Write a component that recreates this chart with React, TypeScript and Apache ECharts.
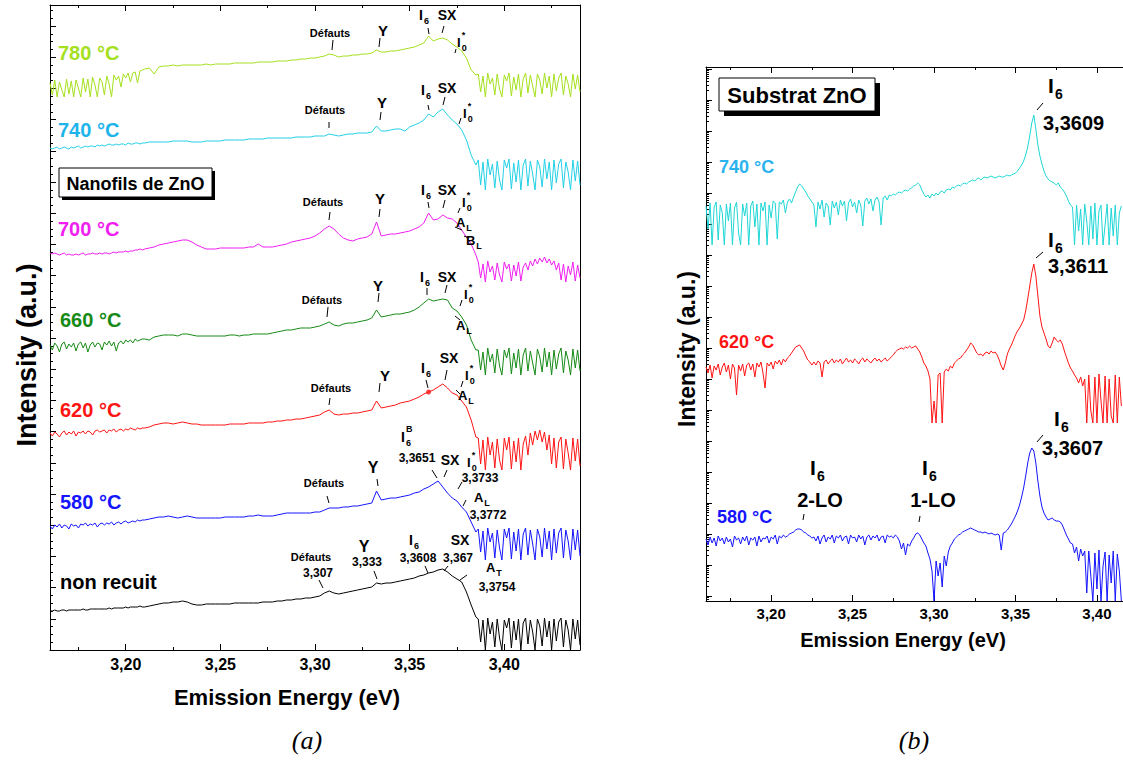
import React, { useEffect, useRef } from "react";
import * as echarts from "echarts";

// ---------- Panel (a): Nanofils de ZnO ----------
// energy sampling segments (eV): dense head, body, dense tail
const HEAD_A = { start: 3.16, step: 0.00125, n: 40 };
const BODY_A = { start: 3.21, step: 0.0025, n: 71 };
const TAIL_A = { start: 3.38625, step: 0.00125, n: 44 };
const E_MIN_A = 3.16;
const E_MAX_A = 3.44;
const MAJOR_A = [3.2, 3.25, 3.3, 3.35, 3.4];
const MINOR_A = [3.175, 3.225, 3.275, 3.325, 3.375, 3.425];

// curve values (a.u., vertically offset spectra): head(40) | body(71) | tail(44)
const S780 = [
  567, 555, 570, 553, 568, 560, 553, 571, 556, 569, 553, 570, 562, 553, 572, 558, 571, 553, 573, 565,
  553, 572, 568, 555, 574, 566, 553, 575, 570, 574, 563, 576, 572, 577, 568, 577, 578, 567, 579, 580,
  581, 582, 576, 583, 584, 584, 585, 584, 585, 585, 585, 585, 585, 586, 585, 586, 586, 586, 586, 587,
  587, 587, 587, 587, 588, 588, 588, 588, 589, 589, 589, 590, 590, 591, 591, 592, 592, 593, 594, 596,
  595, 593, 594, 594, 595, 595, 596, 596, 597, 600, 598, 598, 599, 599, 600, 601, 602, 603, 605, 607,
  614, 609, 611, 612, 610, 606, 603, 599, 592, 580, 575,
  576, 558, 574, 553, 577, 566, 572, 555, 576, 561, 553, 575, 569, 577, 554, 573, 560, 576, 553, 571,
  577, 557, 575, 564, 553, 576, 570, 556, 577, 562, 574, 553, 576, 559, 572, 577, 555, 574, 566, 553,
  576, 561, 575, 558,
];
const S740 = [
  502, 501, 502, 503, 501, 502, 503, 502, 501, 503, 502, 503, 504, 502, 503, 504, 503, 504, 504, 503,
  505, 504, 505, 504, 505, 506, 505, 505, 506, 505, 506, 506, 505, 507, 506, 506, 507, 507, 506, 507,
  507, 508, 508, 508, 508, 508, 509, 509, 509, 509, 508, 508, 508, 509, 509, 509, 509, 510, 510, 510,
  510, 510, 511, 511, 511, 511, 512, 512, 512, 512, 512, 512, 513, 513, 513, 513, 514, 514, 514, 516,
  515, 514, 515, 516, 516, 517, 517, 517, 518, 524, 519, 519, 520, 521, 521, 519, 523, 525, 527, 530,
  536, 533, 538, 541, 535, 530, 526, 520, 510, 495, 485,
  490, 465, 488, 460, 491, 475, 486, 462, 489, 470, 460, 490, 482, 491, 461, 487, 468, 490, 460, 485,
  491, 464, 489, 476, 460, 490, 483, 463, 491, 471, 488, 460, 490, 467, 486, 491, 462, 488, 478, 460,
  490, 469, 489, 465,
];
const S700 = [
  397, 396, 397, 396, 395, 396, 397, 395, 396, 395, 395, 396, 395, 396, 397, 395, 396, 396, 397, 396,
  396, 397, 396, 397, 397, 396, 397, 398, 397, 398, 398, 398, 399, 398, 399, 399, 400, 400, 401, 400,
  401, 402, 403, 405, 406, 407, 408, 409, 410, 410, 408, 405, 403, 401, 401, 401, 402, 402, 402, 402,
  402, 402, 403, 403, 406, 403, 403, 403, 404, 405, 406, 408, 409, 410, 411, 412, 414, 417, 421, 424,
  421, 416, 412, 410, 409, 411, 412, 413, 416, 428, 414, 415, 416, 416, 417, 418, 419, 421, 423, 427,
  437, 430, 431, 435, 432, 431, 427, 420, 413, 406, 395,
  388, 372, 386, 368, 389, 378, 384, 370, 387, 375, 368, 388, 381, 386, 369, 385, 374, 388, 369, 383,
  387, 380, 389, 384, 391, 386, 392, 388, 393, 387, 391, 385, 389, 380, 387, 370, 386, 368, 384, 375,
  388, 369, 385, 372,
];
const S660 = [
  305, 300, 307, 304, 298, 306, 308, 301, 306, 303, 307, 299, 306, 308, 302, 307, 298, 305, 308, 303,
  307, 306, 300, 308, 305, 309, 304, 308, 299, 307, 309, 306, 310, 308, 310, 307, 311, 309, 310, 311,
  311, 310, 313, 314, 315, 315, 315, 314, 316, 316, 315, 314, 314, 314, 314, 314, 314, 314, 315, 315,
  314, 315, 315, 316, 316, 316, 316, 317, 318, 319, 320, 320, 321, 322, 322, 322, 323, 324, 326, 328,
  325, 324, 326, 327, 327, 328, 329, 330, 332, 340, 333, 334, 335, 336, 336, 337, 338, 340, 343, 347,
  351, 349, 350, 351, 350, 342, 339, 333, 325, 310, 300,
  300, 280, 298, 275, 302, 288, 296, 277, 301, 284, 275, 300, 292, 302, 276, 297, 282, 301, 275, 295,
  302, 279, 299, 287, 275, 301, 293, 278, 302, 283, 298, 275, 300, 281, 296, 302, 277, 299, 290, 275,
  301, 282, 300, 279,
];
const S620 = [
  217, 214, 218, 216, 213, 217, 219, 215, 218, 216, 219, 214, 218, 217, 219, 216, 219, 218, 215, 219,
  220, 218, 219, 220, 217, 220, 219, 221, 218, 220, 221, 219, 221, 220, 222, 221, 220, 222, 221, 222,
  222, 223, 225, 226, 227, 227, 226, 227, 228, 227, 226, 226, 225, 225, 225, 225, 225, 225, 226, 226,
  226, 226, 227, 227, 227, 227, 228, 228, 229, 229, 230, 230, 231, 231, 232, 233, 234, 235, 238, 240,
  236, 235, 236, 236, 237, 237, 238, 239, 240, 249, 242, 243, 244, 245, 247, 248, 249, 251, 253, 256,
  258, 260, 263, 266, 262, 257, 255, 249, 243, 230, 213,
  212, 186, 210, 180, 213, 195, 208, 182, 211, 190, 180, 212, 200, 213, 181, 209, 188, 212, 180, 206,
  214, 195, 217, 205, 219, 210, 220, 208, 218, 200, 215, 186, 212, 182, 208, 213, 181, 211, 197, 180,
  212, 189, 211, 184,
];
const S580 = [
  124, 121, 125, 123, 126, 122, 125, 124, 121, 126, 124, 125, 122, 126, 125, 127, 124, 126, 125, 127,
  123, 126, 127, 125, 127, 126, 128, 125, 127, 128, 126, 128, 129, 127, 128, 129, 128, 130, 129, 130,
  130, 131, 132, 133, 133, 134, 133, 132, 133, 134, 133, 132, 132, 132, 132, 132, 132, 133, 133, 133,
  133, 133, 134, 134, 135, 134, 134, 134, 135, 136, 137, 137, 137, 137, 137, 137, 138, 138, 140, 142,
  142, 142, 143, 143, 144, 144, 145, 146, 147, 159, 150, 151, 152, 152, 153, 154, 155, 157, 158, 161,
  163, 166, 169, 163, 157, 152, 149, 143, 138, 128, 118,
  121, 98, 119, 90, 122, 108, 117, 92, 120, 102, 90, 121, 112, 122, 91, 118, 99, 121, 90, 116,
  122, 95, 120, 106, 90, 121, 113, 93, 122, 101, 119, 90, 121, 97, 117, 122, 92, 120, 109, 90,
  121, 100, 120, 94,
];
const SNR = [
  39, 39, 40, 39, 39, 40, 40, 39, 40, 40, 40, 40, 40, 40, 41, 40, 40, 41, 41, 41,
  41, 41, 41, 41, 41, 42, 41, 42, 42, 42, 42, 42, 43, 42, 43, 43, 43, 43, 44, 43,
  43, 44, 45, 46, 47, 47, 48, 48, 49, 48, 46, 45, 45, 46, 46, 46, 46, 46, 46, 47,
  47, 47, 47, 47, 47, 48, 48, 48, 49, 49, 50, 50, 51, 51, 52, 52, 53, 54, 57, 59,
  57, 56, 57, 58, 59, 60, 61, 62, 63, 67, 66, 67, 67, 68, 69, 70, 71, 72, 74, 75,
  77, 78, 80, 81, 78, 74, 71, 68, 58, 45, 33,
  31, 8, 30, 0, 32, 16, 28, 3, 31, 12, 0, 30, 22, 32, 2, 29, 10, 31, 0, 27,
  32, 6, 30, 18, 0, 31, 24, 4, 32, 13, 29, 0, 31, 9, 28, 32, 3, 30, 20, 0,
  31, 11, 30, 5,
];
const SERIES_A = [
  { name: "780 °C", values: S780, color: "#a5e01e" },
  { name: "740 °C", values: S740, color: "#22d0e6" },
  { name: "700 °C", values: S700, color: "#f01ef0" },
  { name: "660 °C", values: S660, color: "#158a15" },
  { name: "620 °C", values: S620, color: "#ff1414" },
  { name: "580 °C", values: S580, color: "#1414ff" },
  { name: "non recuit", values: SNR, color: "#000000" },
];

// ---------- Panel (b): Substrat ZnO ----------
const GRID_B = { start: 3.16, step: 0.00125, n: 205 };
const E_MIN_B = 3.16;
const E_MAX_B = 3.416;
const MAJOR_B = [3.2, 3.25, 3.3, 3.35, 3.4];
const MINOR_B = [3.175, 3.225, 3.275, 3.325, 3.375];

const R740 = [
  395, 372, 398, 356, 394, 399, 361, 396, 388, 356, 397, 380, 398, 356, 393, 399, 368, 356, 397, 385,
  398, 356, 395, 400, 374, 397, 356, 398, 390, 399, 356, 396, 383, 400, 398, 362, 399, 397, 401, 388,
  399, 402, 398,
  404, 409, 414, 417, 415, 412, 409, 405, 402, 399,
  396, 374, 399, 392, 401, 384, 398, 395, 376, 400, 393, 399, 386, 401, 395, 400, 380, 398, 402, 394,
  399, 388, 401, 396, 375, 400, 403, 397, 402, 390, 401, 404, 399, 376, 403, 405, 401, 406,
  405, 407, 406, 408, 409, 408, 410, 411, 410, 412, 413, 415, 416, 418,
  416, 411, 407, 404, 406, 403, 407, 405,
  408, 406, 409, 410, 408, 411, 412, 411, 414, 413, 415, 416, 415, 417, 418, 417, 419, 420,
  421, 420, 422, 423, 421, 423, 424, 423, 424, 425, 424, 423, 424, 425, 424, 424, 425, 426, 425, 426,
  427, 428, 430, 433, 436, 440, 446, 454, 465, 478, 486, 472, 456, 445, 437,
  430, 425, 422, 420, 419, 418, 416, 418, 414, 412, 409, 405, 400, 396,
  394, 356, 396, 370, 392, 356, 397, 380, 356, 395, 362, 398, 356, 390, 396, 356, 376, 397, 356, 393,
  365, 396, 356, 388, 395,
];
const R620 = [
  234, 228, 236, 223, 235, 231, 237, 226, 234, 238, 229, 236, 222, 237, 233, 206, 236, 230, 237, 225,
  236, 238, 231, 237, 224, 238, 234, 239, 228, 213, 238, 235, 239, 232, 240, 237, 241, 236, 242, 239,
  243, 245, 248,
  251, 254, 255, 256, 253, 250, 245, 241, 239, 236,
  239, 236, 240, 238, 224, 239, 241, 237, 240, 242, 238, 241, 239, 242, 237, 240, 243, 239, 241, 238,
  242, 240, 237, 241, 243, 239, 242, 240, 238, 241, 243, 240, 242, 239, 241, 243, 240, 242,
  244, 246, 249, 251, 252, 253, 252, 254, 253, 255, 253, 254, 255, 252,
  249, 244, 238, 235, 230, 222, 178, 200,
  178, 226, 228, 178, 229, 232, 230, 235, 233, 238, 240, 242, 243, 246, 248, 251, 254, 258,
  256, 252, 248, 246, 247, 245, 248, 249, 247, 250, 248, 249, 246, 241, 235, 231, 238, 247, 252, 256,
  261, 266, 270, 273, 277, 281, 290, 302, 315, 328, 337, 325, 305, 285, 274,
  268, 262, 255, 253, 258, 264, 261, 259, 261, 257, 250, 244, 238, 233,
  230, 226, 223, 218, 224, 215, 222, 178, 226, 190, 178, 224, 178, 227, 200, 178, 225, 178, 222, 185,
  178, 226, 178, 224, 195,
];
const R580 = [
  62, 56, 64, 58, 63, 55, 65, 60, 63, 57, 64, 59, 62, 54, 65, 61, 63, 57, 64, 60,
  65, 56, 63, 61, 64, 55, 65, 59, 63, 62, 65, 58, 64, 62, 66, 57, 65, 63, 66, 64,
  65, 67, 68,
  69, 71, 72, 72, 71, 69, 68, 66, 65, 63,
  64, 60, 65, 57, 63, 66, 59, 64, 62, 66, 58, 65, 63, 66, 60, 64, 65, 57, 66, 63,
  64, 59, 66, 62, 65, 56, 64, 66, 61, 65, 63, 66, 60, 64, 65, 58, 66, 64,
  65, 63, 66, 64, 60, 52, 58, 46, 57, 55, 60, 63, 67, 68,
  66, 62, 58, 55, 48, 42, 30, 0,
  40, 25, 38, 14, 45, 35, 49, 55, 58, 62, 64, 66, 67, 69, 70, 71, 72, 73,
  72, 71, 70, 69, 69, 68, 69, 68, 67, 68, 67, 66, 67, 66, 51, 68, 69, 71, 74, 77,
  81, 85, 90, 96, 104, 113, 125, 138, 148, 153, 150, 138, 120, 105, 94,
  88, 84, 81, 82, 83, 81, 80, 80, 79, 76, 71, 66, 62, 58,
  57, 48, 54, 40, 52, 45, 50, 8, 50, 25, 0, 48, 12, 51, 0, 35, 49, 0, 46, 18,
  50, 0, 47, 30, 0,
];
const SERIES_B = [
  { name: "740 °C", values: R740, color: "#1fd6d6" },
  { name: "620 °C", values: R620, color: "#ff1414" },
  { name: "580 °C", values: R580, color: "#1414ff" },
];

const Y_MAX_A = 645;
const Y_MAX_B = 534;

const FONT = '"Liberation Sans", Arial, Helvetica, sans-serif';
const SERIF = '"Liberation Serif", "Times New Roman", serif';

const seq = (g: { start: number; step: number; n: number }) =>
  Array.from({ length: g.n }, (_, i) => Math.round((g.start + i * g.step) * 100000) / 100000);
const ENERGY_A = [...seq(HEAD_A), ...seq(BODY_A), ...seq(TAIL_A)];
const ENERGY_B = seq(GRID_B);

const fmt = (v: number) => v.toFixed(2).replace(".", ",");

// tick layout (positions of axis ticks only)
const ticksEvery = (step: number, max: number) => {
  const out: number[] = [];
  for (let v = 0; v <= max + 0.01; v += step) out.push(Math.round(v * 10) / 10);
  return out;
};
const logMajorsB: number[] = [];
for (let v = 5; v <= Y_MAX_B; v += 31) logMajorsB.push(v);
const logMinorsB: number[] = [];
for (const m of [-26, ...logMajorsB]) {
  for (let k = 2; k <= 9; k++) {
    const v = m + 31 * Math.log10(k);
    if (v > 0 && v < Y_MAX_B) logMinorsB.push(Math.round(v * 10) / 10);
  }
}
const TICKS_A_MAJOR = ticksEvery(31.2, Y_MAX_A);
const TICKS_A_MINOR = ticksEvery(7.8, Y_MAX_A);

function txt(x: number, y: number, text: string, size: number, opt: any = {}) {
  const align = opt.align || "center";
  return {
    type: "text",
    x,
    y,
    z: 50,
    rotation: opt.rotation || 0,
    style: {
      text,
      fill: opt.fill || "#000",
      font: `${opt.italic ? "italic " : ""}${opt.normal ? "" : "bold "}${size}px ${opt.family || FONT}`,
      align,
      verticalAlign: "middle",
      textAlign: align,
      textVerticalAlign: "middle",
    },
  };
}
function seg(x1: number, y1: number, x2: number, y2: number) {
  return { type: "line", z: 50, shape: { x1, y1, x2, y2 }, style: { stroke: "#000", lineWidth: 1 } };
}
// letter with subscript / superscript; x is left edge of main letter
function lab(x: number, y: number, main: string, size: number, wFactor: number, sub?: string, sup?: string) {
  const w = size * wFactor;
  const s = Math.round(size * 0.66);
  const els: any[] = [txt(x, y, main, size, { align: "left" })];
  if (sub) els.push(txt(x + w + 1, y + size * 0.45, sub, s, { align: "left" }));
  if (sup) els.push(txt(x + w + 1, y - size * 0.55, sup, s, { align: "left" }));
  return els;
}
function box(x: number, y: number, w: number, h: number, text: string, size: number, sh: number) {
  return [
    { type: "rect", z: 40, shape: { x: x + sh, y: y + sh, width: w, height: h }, style: { fill: "#000" } },
    { type: "rect", z: 41, shape: { x, y, width: w, height: h }, style: { fill: "#fff", stroke: "#000", lineWidth: 1 } },
    txt(x + w / 2, y + h / 2 + 1, text, size),
  ];
}

function buildOption() {
  const axisBase = {
    type: "value",
    splitLine: { show: false },
    axisLine: { show: false },
    axisLabel: { show: false },
    axisTick: { show: false },
  };
  const xA = (pos: string, major: boolean, labels: boolean, grid: number, mn: number, mx: number, maj: number[], mnr: number[]) => ({
    ...axisBase,
    gridIndex: grid,
    min: mn,
    max: mx,
    position: pos,
    axisLine: { show: major, onZero: false, lineStyle: { color: "#000", width: 1 } },
    axisTick: {
      show: true,
      inside: true,
      length: major ? 6 : 3,
      customValues: major ? maj : mnr,
      lineStyle: { color: "#000", width: 1 },
    },
    axisLabel: labels
      ? {
          show: true,
          customValues: maj,
          formatter: (v: number) => fmt(v),
          color: "#000",
          fontFamily: FONT,
          fontWeight: "bold",
          fontSize: grid === 0 ? 16 : 15,
          margin: grid === 0 ? 6 : 5,
        }
      : { show: false },
  });
  const yA = (pos: string, grid: number, mx: number, ticks: number[] | null, len: number, line: boolean) => ({
    ...axisBase,
    gridIndex: grid,
    min: 0,
    max: mx,
    position: pos,
    axisLine: { show: line, onZero: false, lineStyle: { color: "#000", width: 1 } },
    axisTick: ticks
      ? { show: true, inside: true, length: len, customValues: ticks, lineStyle: { color: "#000", width: 1 } }
      : { show: false },
  });

  const xAxis = [
    xA("bottom", true, true, 0, E_MIN_A, E_MAX_A, MAJOR_A, MINOR_A),
    xA("bottom", false, false, 0, E_MIN_A, E_MAX_A, MAJOR_A, MINOR_A),
    xA("top", true, false, 0, E_MIN_A, E_MAX_A, MAJOR_A, MINOR_A),
    xA("top", false, false, 0, E_MIN_A, E_MAX_A, MAJOR_A, MINOR_A),
    xA("bottom", true, true, 1, E_MIN_B, E_MAX_B, MAJOR_B, MINOR_B),
    xA("bottom", false, false, 1, E_MIN_B, E_MAX_B, MAJOR_B, MINOR_B),
    xA("top", true, false, 1, E_MIN_B, E_MAX_B, MAJOR_B, MINOR_B),
    xA("top", false, false, 1, E_MIN_B, E_MAX_B, MAJOR_B, MINOR_B),
  ];
  const yAxis = [
    yA("left", 0, Y_MAX_A, TICKS_A_MAJOR, 6, true),
    yA("left", 0, Y_MAX_A, TICKS_A_MINOR, 3, false),
    yA("right", 0, Y_MAX_A, null, 0, true),
    yA("left", 1, Y_MAX_B, logMajorsB, 6, true),
    yA("left", 1, Y_MAX_B, logMinorsB, 3, false),
  ];

  const series: any[] = [];
  SERIES_A.forEach((s) => {
    series.push({
      type: "line",
      name: s.name,
      xAxisIndex: 0,
      yAxisIndex: 0,
      data: s.values.map((v, i) => [ENERGY_A[i], v]),
      showSymbol: false,
      symbol: "none",
      lineStyle: { color: s.color, width: 1 },
      clip: true,
    });
  });
  // marker on the 620 °C curve at I6 (3,36 eV)
  const iI6 = ENERGY_A.indexOf(3.36);
  series.push({
    type: "scatter",
    xAxisIndex: 0,
    yAxisIndex: 0,
    data: [[ENERGY_A[iI6], S620[iI6]]],
    symbolSize: 5,
    itemStyle: { color: "#ff1414" },
  });
  SERIES_B.forEach((s) => {
    series.push({
      type: "line",
      name: s.name,
      xAxisIndex: 4,
      yAxisIndex: 3,
      data: s.values.map((v, i) => [ENERGY_B[i], v]),
      showSymbol: false,
      symbol: "none",
      lineStyle: { color: s.color, width: 1 },
      clip: true,
    });
  });

  const g: any[] = [];
  // titles
  g.push(txt(27, 355, "Intensity (a.u.)", 27, { rotation: Math.PI / 2 }));
  g.push(txt(287, 697, "Emission Energy (eV)", 22));
  g.push(txt(307, 740, "(a)", 26, { italic: true, normal: true, family: SERIF }));
  g.push(txt(687, 349, "Intensity (a.u.)", 23, { rotation: Math.PI / 2 }));
  g.push(txt(903, 640, "Emission Energy (eV)", 20));
  g.push(txt(914, 740, "(b)", 26, { italic: true, normal: true, family: SERIF }));

  // panel (a) temperature labels
  g.push(txt(58, 53, "780 °C", 20, { align: "left", fill: "#a5e01e" }));
  g.push(txt(58, 130, "740 °C", 20, { align: "left", fill: "#1eb4ea" }));
  g.push(txt(58, 229, "700 °C", 20, { align: "left", fill: "#f01ef0" }));
  g.push(txt(60, 320, "660 °C", 20, { align: "left", fill: "#158a15" }));
  g.push(txt(60, 410, "620 °C", 20, { align: "left", fill: "#ff1414" }));
  g.push(txt(60, 502, "580 °C", 20, { align: "left", fill: "#1414ff" }));
  g.push(txt(60, 582, "non recuit", 20, { align: "left" }));
  g.push(...box(59, 168, 153, 29, "Nanofils de ZnO", 18, 3));

  // 780
  g.push(txt(330, 33, "Défauts", 11), seg(333, 40, 332, 50));
  g.push(txt(383, 30, "Y", 15), seg(380, 38, 379, 47));
  g.push(...lab(419, 15, "I", 14, 0.28, "6"), seg(428, 28, 429, 34));
  g.push(txt(447, 15, "SX", 14), seg(444, 26, 442, 33));
  g.push(...lab(457, 42, "I", 13, 0.28, "0", "*"), seg(456, 49, 455, 53));
  // 740
  g.push(txt(325, 110, "Défauts", 11), seg(329, 122, 329, 128));
  g.push(txt(382, 102, "Y", 15), seg(381, 112, 380, 120));
  g.push(...lab(421, 90, "I", 14, 0.28, "6"), seg(428, 105, 429, 110));
  g.push(txt(447, 88, "SX", 14), seg(445, 97, 443, 105));
  g.push(...lab(463, 113, "I", 13, 0.28, "0", "*"), seg(461, 118, 459, 124));
  // 700
  g.push(txt(323, 202, "Défauts", 11), seg(330, 212, 329, 220));
  g.push(txt(380, 198, "Y", 15), seg(380, 209, 379, 217));
  g.push(...lab(421, 190, "I", 14, 0.28, "6"), seg(428, 202, 429, 208));
  g.push(txt(447, 190, "SX", 14), seg(445, 200, 443, 208));
  g.push(...lab(462, 202, "I", 13, 0.28, "0", "*"), seg(460, 208, 458, 213));
  g.push(...lab(456, 222, "A", 13, 0.72, "L"), seg(455, 227, 462, 230));
  g.push(...lab(466, 240, "B", 13, 0.72, "L"), seg(464, 236, 469, 238));
  // 660
  g.push(txt(322, 300, "Défauts", 11), seg(328, 307, 327, 317));
  g.push(txt(378, 285, "Y", 15), seg(379, 293, 378, 302));
  g.push(...lab(420, 277, "I", 14, 0.28, "6"), seg(427, 288, 427, 295));
  g.push(txt(447, 277, "SX", 14), seg(447, 285, 445, 293));
  g.push(...lab(464, 294, "I", 13, 0.28, "0", "*"), seg(462, 300, 460, 306));
  g.push(...lab(456, 325, "A", 13, 0.72, "L"), seg(455, 316, 460, 320));
  // 620
  g.push(txt(331, 388, "Défauts", 11), seg(330, 398, 329, 405));
  g.push(txt(385, 375, "Y", 15), seg(380, 383, 379, 392));
  g.push(...lab(421, 368, "I", 14, 0.28, "6"), seg(426, 380, 428, 388));
  g.push(txt(449, 358, "SX", 14), seg(447, 370, 445, 380));
  g.push(...lab(465, 375, "I", 13, 0.28, "0", "*"), seg(463, 381, 461, 387));
  g.push(...lab(458, 395, "A", 13, 0.72, "L"), seg(456, 390, 460, 394));
  // 580
  g.push(txt(324, 483, "Défauts", 11), seg(327, 496, 329, 503));
  g.push(txt(373, 467, "Y", 16), seg(377, 479, 378, 486));
  g.push(...lab(401, 437, "I", 14, 0.28, "6", "B"));
  g.push(txt(417, 458, "3,3651", 12), seg(432, 470, 437, 478));
  g.push(txt(450, 460, "SX", 14), seg(447, 470, 444, 477));
  g.push(...lab(467, 462, "I", 13, 0.28, "0", "*"));
  g.push(txt(480, 478, "3,3733", 12), seg(462, 482, 458, 489));
  g.push(...lab(474, 497, "A", 13, 0.72, "L"));
  g.push(txt(488, 515, "3,3772", 12), seg(466, 500, 463, 506));
  // non recuit
  g.push(txt(311, 557, "Défauts", 11), txt(318, 573, "3,307", 12), seg(319, 580, 323, 588));
  g.push(txt(364, 546, "Y", 16), txt(367, 562, "3,333", 12), seg(374, 571, 377, 579));
  g.push(...lab(409, 540, "I", 14, 0.28, "6"), txt(418, 558, "3,3608", 12), seg(425, 566, 428, 573));
  g.push(txt(460, 540, "SX", 14), txt(458, 558, "3,367", 12), seg(448, 566, 444, 571));
  g.push(...lab(486, 567, "A", 13, 0.72, "T"), txt(497, 587, "3,3754", 12), seg(467, 575, 460, 580));

  // panel (b)
  g.push(...box(719, 78, 156, 33, "Substrat ZnO", 22, 5));
  g.push(txt(719, 167, "740 °C", 18, { align: "left", fill: "#2ab3ee" }));
  g.push(txt(719, 342, "620 °C", 18, { align: "left", fill: "#ff1414" }));
  g.push(txt(717, 517, "580 °C", 18, { align: "left", fill: "#1414ff" }));
  g.push(...lab(1048, 85, "I", 21, 0.28, "6"), txt(1043, 123, "3,3609", 20, { align: "left" }), seg(1037, 110, 1043, 103));
  g.push(...lab(1048, 239, "I", 21, 0.28, "6"), txt(1048, 266, "3,3611", 20, { align: "left" }), seg(1036, 258, 1043, 252));
  g.push(...lab(1054, 418, "I", 21, 0.28, "6"), txt(1042, 448, "3,3607", 20, { align: "left" }), seg(1037, 442, 1043, 435));
  g.push(...lab(810, 467, "I", 21, 0.28, "6"), txt(820, 500, "2-LO", 20), seg(804, 514, 803, 520));
  g.push(...lab(922, 467, "I", 21, 0.28, "6"), txt(933, 500, "1-LO", 20), seg(920, 516, 919, 522));

  return {
    animation: false,
    backgroundColor: "#ffffff",
    grid: [
      { left: 50, top: 5, width: 530, height: 645, containLabel: false },
      { left: 706, top: 67, width: 417, height: 534, containLabel: false },
    ],
    xAxis,
    yAxis,
    series,
    graphic: g,
  };
}

export default function App() {
  const ref = useRef<HTMLDivElement>(null);
  useEffect(() => {
    if (!ref.current) return;
    const chart = echarts.init(ref.current, null, { renderer: "svg" });
    chart.setOption(buildOption() as any);
    return () => chart.dispose();
  }, []);
  return (
    <div
      ref={ref}
      style={{ position: "fixed", left: 0, top: 0, width: 1123, height: 760, background: "#fff" }}
    />
  );
}
